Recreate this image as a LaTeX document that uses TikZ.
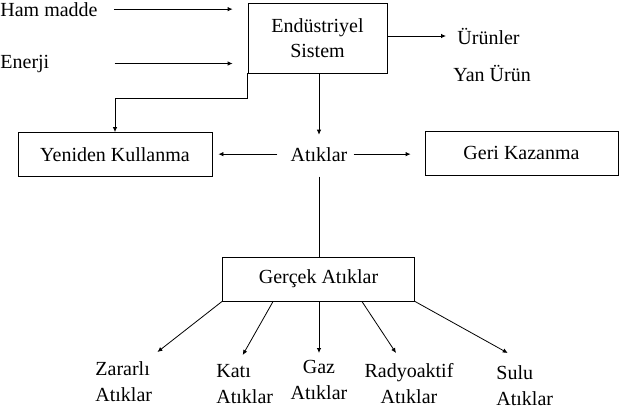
\documentclass[tikz,border=0pt]{standalone}
\usepackage{fontspec}
\setmainfont{Liberation Serif}
\usetikzlibrary{arrows.meta}
\begin{document}
\begin{tikzpicture}[x=1pt, y=-1pt, line width=0.8pt,
  every node/.style={font=\fontsize{20}{26}\selectfont, inner sep=0pt},
  kutu/.style={draw, minimum width=#1, minimum height=44pt},
  ok/.style={-{Latex[length=5pt,width=4.5pt]}}]
  \useasboundingbox (0,0) rectangle (624,410);
  \node[draw, minimum width=139pt, minimum height=70pt, align=center, font=\fontsize{20}{25}\selectfont] (sys) at (317.5,38) {Endüstriyel\\Sistem};
  \node[anchor=base west] (ham) at (0,16) {Ham madde};
  \node[anchor=base west] (enerji) at (0,68) {Enerji};
  \node[anchor=base west] (urun) at (457,44) {Ürünler};
  \node[anchor=base west] (yan) at (453,81) {Yan Ürün};
  \node[kutu=194pt] (reuse) at (115,154.5) {Yeniden Kullanma};
  \node[kutu=193pt] (geri) at (521.5,153) {Geri Kazanma};
  \node[anchor=base] (atik) at (319,161) {Atıklar};
  \node[kutu=192pt] (gercek) at (318.5,279) {Gerçek Atıklar};
  \foreach \n/\x/\y/\anc/\al/\lab in {zar/95/361/north west/left/{Zararlı\\Atıklar}, kati/216/364/north west/left/{Katı\\Atıklar}, gaz/319/360/north/center/{Gaz\\Atıklar}, radyo/409/363/north/center/{Radyoaktif\\Atıklar}, sulu/496/365/north west/left/{Sulu\\Atıklar}}
    \node[anchor=\anc, align=\al] (\n) at (\x,\y) {\lab};

  \draw[ok] ([xshift=16pt]ham.east) -- ([xshift=-15pt]ham.east -| sys.west);
  \draw[ok] ([xshift=65pt]enerji.east) -- ([xshift=-15pt]enerji.east -| sys.west);
  \draw[ok] (sys.east |- urun.west) -- ([xshift=-11pt]urun.west);
  \draw[ok] (sys.south west) -- ++(0,25) -| (reuse.north);
  \draw[ok] (atik.north |- sys.south) -- ([yshift=12pt]atik.north);
  \draw[ok] ([xshift=-13pt]atik.west) -- ([xshift=6pt]reuse.east |- atik.west);
  \draw[ok] ([xshift=6pt]atik.east) -- ([xshift=-14pt]atik.east -| geri.west);
  \draw ([yshift=-15pt]atik.south) -- (atik.south |- gercek.north);
  \draw[ok] (gercek.south west) -- ([shift={(5pt,9pt)}]zar.north east);
  \draw[ok] ([xshift=51pt]gercek.south west) -- ([shift={(-2pt,9pt)}]kati.north);
  \draw[ok] (gaz.north |- gercek.south) -- ([yshift=7pt]gaz.north);
  \draw[ok] ([xshift=-53pt]gercek.south east) -- ([shift={(-13pt,10pt)}]radyo.north);
  \draw[ok] (gercek.south east) -- ([shift={(-17pt,12pt)}]sulu.north);
\end{tikzpicture}
\end{document}
